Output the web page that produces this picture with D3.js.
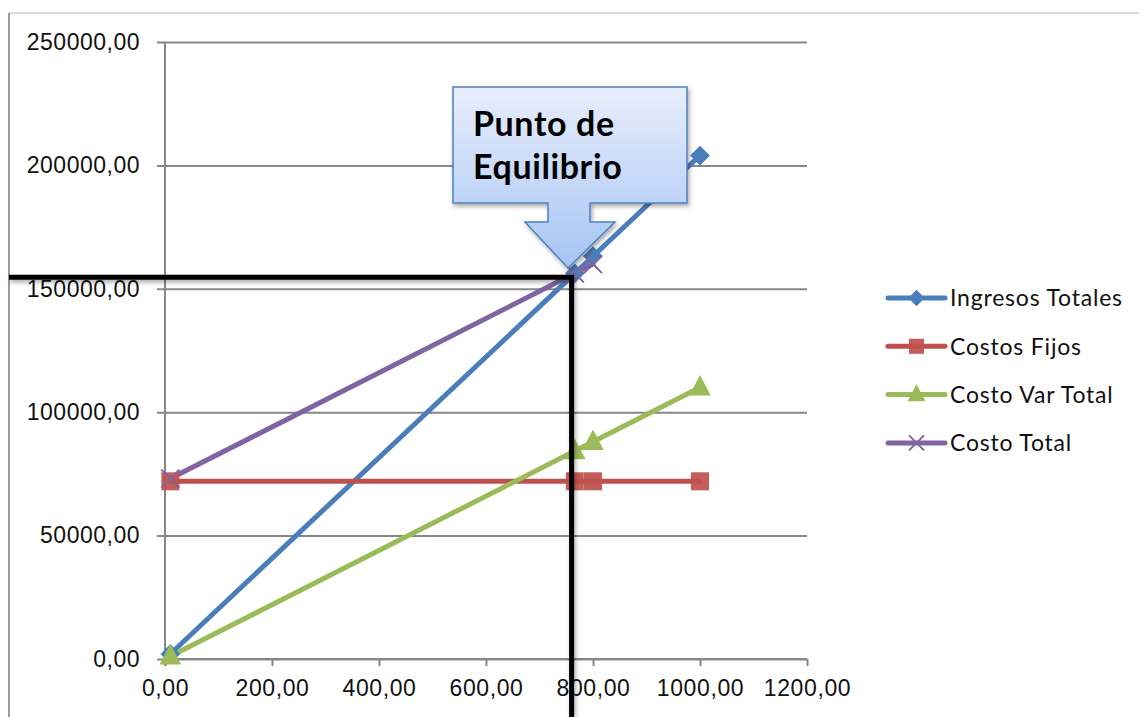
<!DOCTYPE html>
<html>
<head>
<meta charset="utf-8">
<script src="https://cdn.jsdelivr.net/npm/d3@7"></script>
<style>
  html, body { margin: 0; padding: 0; background: #fff; }
  svg { display: block; font-family: Lato, "Open Sans", sans-serif; }
</style>
</head>
<body>
<svg id="chart" width="1139" height="717"></svg>
<script>
// Cantidades (unidades) en el eje X
const cantidades = [10, 766, 800, 1000];
// Series del análisis de punto de equilibrio
const ingresosTotales = [2040, 156264, 163200, 204000];
const costosFijos = [72000, 72000, 72000, 72000];
const costoVarTotal = [1100, 84260, 88000, 110000];
const costoTotal = [73100, 156260, 160000, null];

const seriesNames = ["Ingresos Totales", "Costos Fijos", "Costo Var Total", "Costo Total"];
const xTicks = [0, 200, 400, 600, 800, 1000, 1200];
const yTicks = [0, 50000, 100000, 150000, 200000, 250000];
// Guías del punto de equilibrio (cantidad, monto)
const guiaEquilibrio = { q: 760, monto: 154700 };
const calloutLines = ["Punto de", "Equilibrio"];

const svg = d3.select("#chart");
const W = 1139, H = 717;
const pLeft = 165, pRight = 807, pTop = 42, pBottom = 659;

const x = d3.scaleLinear().domain([0, 1200]).range([pLeft, pRight]);
const y = d3.scaleLinear().domain([0, 250000]).range([pBottom, pTop]);
const fmt = v => d3.format(".2f")(v).replace(".", ",");

const defs = svg.append("defs");
const shadow = defs.append("filter").attr("id", "sombra")
  .attr("x", "-20%").attr("y", "-20%").attr("width", "140%").attr("height", "140%");
shadow.append("feDropShadow").attr("dx", 1.5).attr("dy", 2.5).attr("stdDeviation", 2)
  .attr("flood-color", "#000").attr("flood-opacity", 0.35);
const grad = defs.append("linearGradient").attr("id", "azul")
  .attr("x1", 0).attr("y1", 0).attr("x2", 0).attr("y2", 1);
grad.append("stop").attr("offset", "0%").attr("stop-color", "#e8eefc");
grad.append("stop").attr("offset", "100%").attr("stop-color", "#a6c4f4");

// Marco del gráfico
svg.append("line").attr("x1", 9).attr("x2", W).attr("y1", 13).attr("y2", 13)
  .attr("stroke", "#d0d0d0").attr("stroke-width", 1.5);
svg.append("line").attr("x1", 9).attr("x2", 9).attr("y1", 13).attr("y2", H)
  .attr("stroke", "#9a9a9a").attr("stroke-width", 2);

// Líneas de cuadrícula horizontales y eje Y
const yAxis = d3.axisLeft(y).tickValues(yTicks).tickSize(pRight - pLeft + 8)
  .tickFormat(fmt).tickPadding(17);
const gy = svg.append("g").attr("transform", `translate(${pRight},0)`).call(yAxis);
gy.select(".domain").remove();
gy.selectAll(".tick line").attr("stroke", "#878787").attr("stroke-width", 2);
gy.selectAll(".tick text").attr("font-size", 23).attr("letter-spacing", 0.5).attr("fill", "#111")
  .attr("x", -(pRight - pLeft) - 25);

svg.append("line").attr("x1", pLeft).attr("x2", pLeft).attr("y1", pTop).attr("y2", pBottom + 7)
  .attr("stroke", "#878787").attr("stroke-width", 2);

// Eje X
const xAxis = d3.axisBottom(x).tickValues(xTicks).tickSize(7).tickFormat(fmt).tickPadding(14);
const gx = svg.append("g").attr("transform", `translate(0,${pBottom})`).call(xAxis);
gx.select(".domain").attr("stroke", "#878787").attr("stroke-width", 2)
  .attr("d", `M${pLeft},0H${pRight}`);
gx.selectAll(".tick line").attr("stroke", "#878787").attr("stroke-width", 2);
gx.selectAll(".tick text").attr("font-size", 23).attr("letter-spacing", 0.6).attr("fill", "#111");

const colors = ["#4a7ebb", "#c0504d", "#9bbb59", "#8064a2"];
const valores = [ingresosTotales, costosFijos, costoVarTotal, costoTotal];
const series = seriesNames.map((name, i) => ({
  name, color: colors[i],
  points: cantidades.map((q, j) => ({ q, v: valores[i][j] }))
}));

const line = d3.line().defined(d => d.v != null).x(d => x(d.q)).y(d => y(d.v));

function marker(g, i, size) {
  const c = colors[i];
  if (i === 0) {
    const s = size * 0.55;
    g.append("path").attr("d", `M0,${-s}L${s},0L0,${s}L${-s},0Z`).attr("fill", c);
  } else if (i === 1) {
    g.append("rect").attr("x", -size / 2).attr("y", -size / 2).attr("width", size).attr("height", size)
      .attr("fill", c).attr("fill-opacity", 0.92);
  } else if (i === 2) {
    const s = size * 0.6;
    g.append("path").attr("d", `M0,${-s * 1.15}L${s},${s * 0.75}L${-s},${s * 0.75}Z`).attr("fill", c);
  } else {
    const s = size * 0.5;
    g.append("path").attr("d", `M${-s},${-s}L${s},${s}M${-s},${s}L${s},${-s}`)
      .attr("stroke", c).attr("stroke-width", 2);
  }
}

const plot = svg.append("g");
series.forEach((s, i) => {
  plot.append("path").datum(s.points).attr("d", line)
    .attr("fill", "none").attr("stroke", s.color).attr("stroke-width", 5)
    .attr("stroke-linejoin", "round").attr("stroke-linecap", "round");
});
series.forEach((s, i) => {
  s.points.filter(d => d.v != null).forEach(d => {
    const g = plot.append("g").attr("transform", `translate(${x(d.q)},${y(d.v)})`);
    marker(g, i, 18);
  });
});

// Guías negras del punto de equilibrio
const gxq = x(guiaEquilibrio.q), gyq = y(guiaEquilibrio.monto);
const guias = svg.append("g").attr("filter", "url(#sombra)");
guias.append("path").attr("d", `M9,${gyq}H${gxq}V${H}`)
  .attr("fill", "none").attr("stroke", "#000").attr("stroke-width", 5);

// Llamada "Punto de Equilibrio"
const cx0 = 453, cx1 = 687, cy0 = 87, cy1 = 203;
const callout = `M${cx0},${cy0}H${cx1}V${cy1}H590V222H615L568,268L525,222H548V${cy1}H${cx0}Z`;
svg.append("path").attr("d", callout).attr("fill", "url(#azul)")
  .attr("stroke", "#4f81bd").attr("stroke-width", 1.5).attr("filter", "url(#sombra)");
const ct = svg.append("text").attr("font-weight", "bold").attr("font-size", 34)
  .attr("letter-spacing", 0.6).attr("fill", "#000");
calloutLines.forEach((t, i) => ct.append("tspan").attr("x", 473).attr("y", 136 + i * 43).text(t));

// Leyenda
const leg = svg.append("g");
series.forEach((s, i) => {
  const ly = 298 + i * 48.3;
  const g = leg.append("g").attr("transform", `translate(888,${ly})`);
  g.append("line").attr("x1", 0).attr("x2", 57).attr("stroke", s.color)
    .attr("stroke-width", 5).attr("stroke-linecap", "round");
  const m = g.append("g").attr("transform", "translate(28.5,0)");
  marker(m, i, 15);
  g.append("text").attr("x", 62).attr("y", 0).attr("dy", "0.36em")
    .attr("font-size", 23).attr("letter-spacing", 0.8).attr("fill", "#111").text(s.name);
});
</script>
</body>
</html>
